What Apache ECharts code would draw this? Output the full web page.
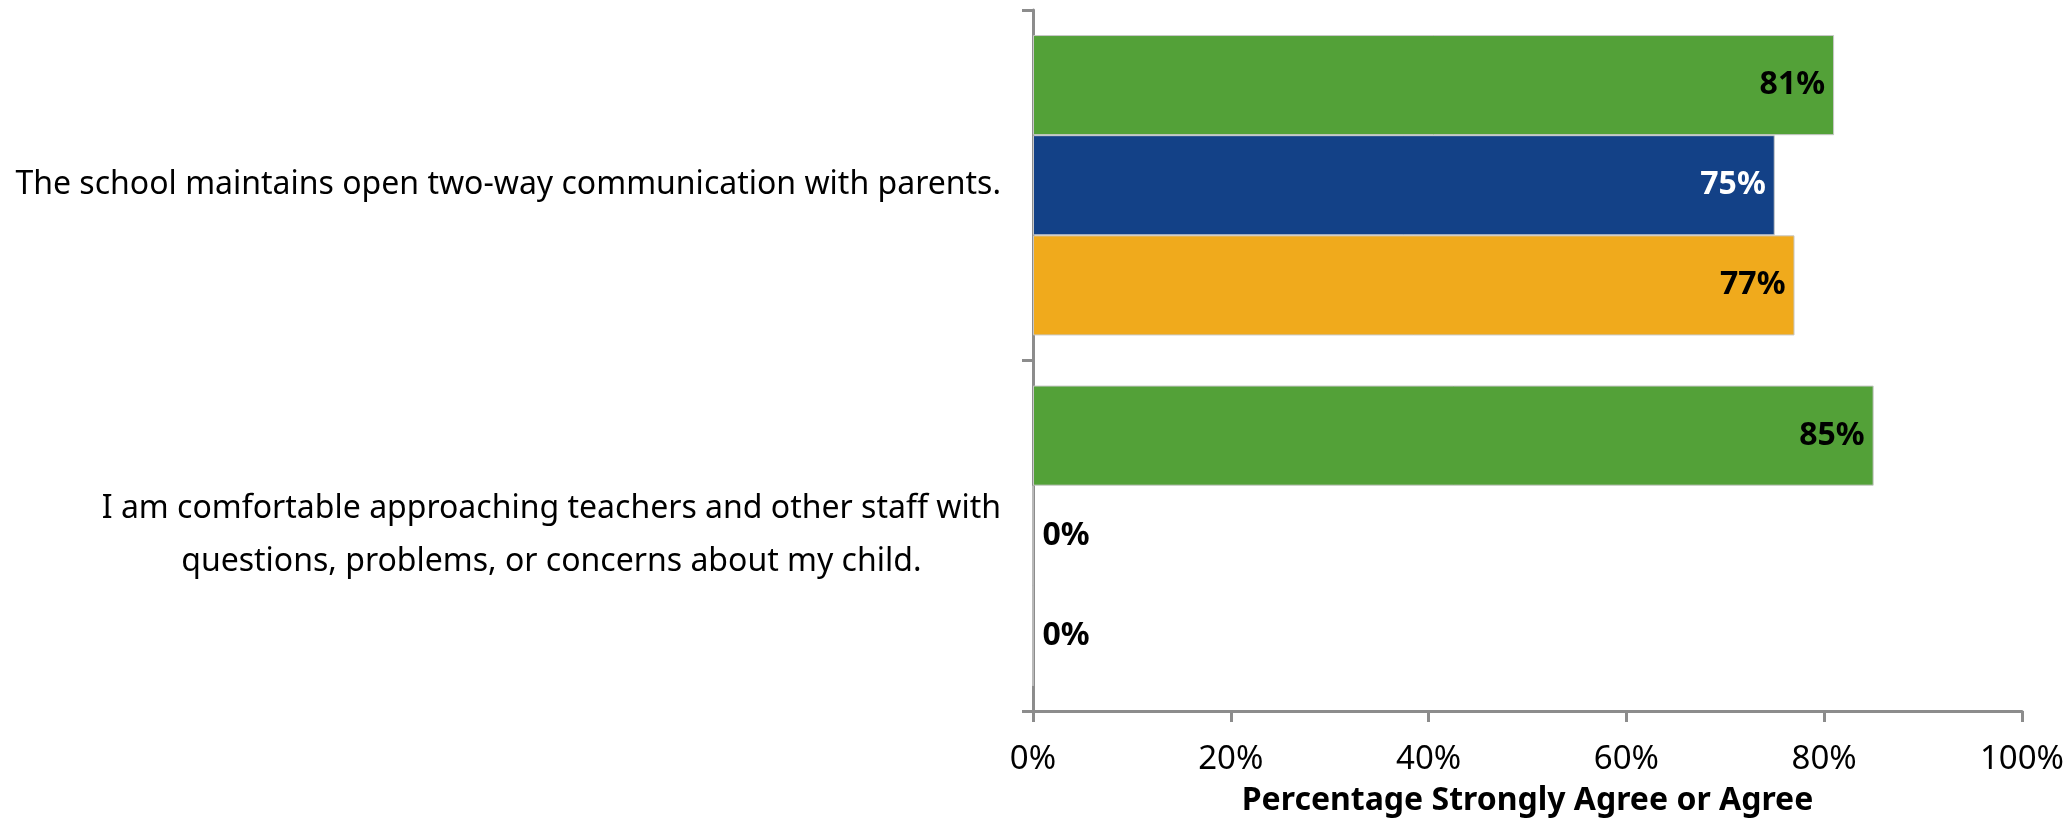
<!DOCTYPE html>
<html>
<head>
<meta charset="utf-8">
<script src="https://cdn.jsdelivr.net/npm/echarts@6/dist/echarts.min.js"></script>
<style>
  html, body { margin: 0; padding: 0; background: #fff; }
  #chart { width: 2066px; height: 821px; }
</style>
</head>
<body>
<div id="chart"></div>
<script>
// survey statements (top to bottom)
var categories = [
  'The school maintains open two-way communication with parents.',
  'I am comfortable approaching teachers and other staff with\nquestions, problems, or concerns about my child.'
]
// percentage strongly agree or agree, one array per bar colour
var greenValues = [81, 85]
var blueValues = [75, 0]
var orangeValues = [77, 0]
var xTicks = [0, 20, 40, 60, 80, 100]

var FONT = '"Noto Sans", sans-serif'
var AXIS_COLOR = '#8c8c8c'

function makeData(values, labelColor) {
  // zero bars get a black label just right of the axis, like the original
  return values.map(function(v) {
    return {
      value: v,
      label: v === 0
        ? { position: 'right', color: '#000' }
        : { position: 'insideRight', color: labelColor }
    }
  })
}

function makeSeries(name, values, color, labelColor) {
  return {
    name: name,
    type: 'bar',
    data: makeData(values, labelColor),
    barGap: '0%',
    barCategoryGap: '14.3%',
    itemStyle: { color: color, borderColor: '#c8c8c8', borderWidth: 1 },
    label: {
      show: true,
      formatter: '{c}%',
      fontFamily: FONT,
      fontWeight: 'bold',
      fontSize: 32,
      distance: 9
    },
    animation: false
  }
}

var chart = echarts.init(document.getElementById('chart'))
chart.setOption({
  backgroundColor: '#fff',
  grid: { left: 1033, right: 44, top: 10, bottom: 110, containLabel: false, outerBoundsMode: 'none' },
  xAxis: {
    type: 'value',
    min: 0,
    max: 100,
    interval: 20,
    axisLine: { show: true, lineStyle: { color: AXIS_COLOR, width: 3 } },
    axisTick: { show: true, length: 11, lineStyle: { color: AXIS_COLOR, width: 3 } },
    splitLine: { show: false },
    axisLabel: {
      margin: 32,
      color: '#000',
      fontFamily: FONT,
      fontSize: 33,
      formatter: function(v) { return xTicks.indexOf(v) >= 0 ? v + '%' : '' }
    },
    name: 'Percentage Strongly Agree or Agree',
    nameLocation: 'middle',
    nameGap: 74,
    nameTextStyle: { color: '#000', fontFamily: FONT, fontWeight: 'bold', fontSize: 32 }
  },
  yAxis: {
    type: 'category',
    inverse: true,
    data: categories,
    axisLine: { show: true, lineStyle: { color: AXIS_COLOR, width: 3 } },
    axisTick: { show: true, length: 11, lineStyle: { color: AXIS_COLOR, width: 3 } },
    axisLabel: {
      margin: 32,
      color: '#000',
      fontFamily: FONT,
      fontSize: 32,
      formatter: function(v) {
        return v.split('\n').map(function(s) { return '{c|' + s + '}' }).join('\n')
      },
      rich: {
        c: { align: 'center', fontFamily: FONT, fontSize: 32, lineHeight: 53, color: '#000' }
      }
    }
  },
  series: [
    makeSeries('Green', greenValues, '#53a138', '#000'),
    makeSeries('Blue', blueValues, '#134187', '#fff'),
    makeSeries('Orange', orangeValues, '#f0aa1c', '#000')
  ]
})
</script>
</body>
</html>
